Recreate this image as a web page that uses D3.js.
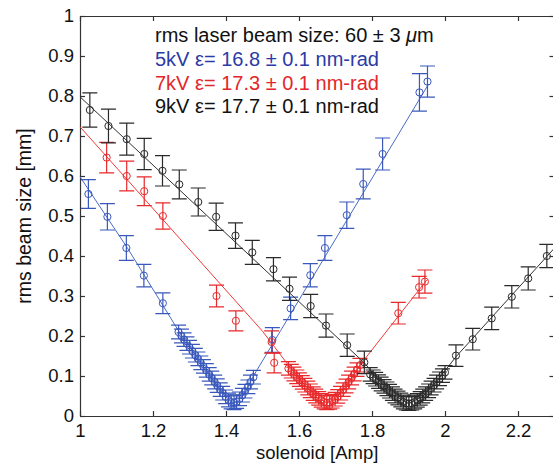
<!DOCTYPE html>
<html lang="en">
<head>
<meta charset="UTF-8">
<title>solenoid scan</title>
<style>
  body { margin: 0; background: #fff; }
  svg text { font-family: "Liberation Sans", Arial, Helvetica, sans-serif; }
</style>
</head>
<body>
<script src="https://cdn.jsdelivr.net/npm/d3@7"></script>
<script>
// axis ticks
const xTicks = [1, 1.2, 1.4, 1.6, 1.8, 2, 2.2];
const xTickLabels = ["1", "1.2", "1.4", "1.6", "1.8", "2", "2.2"];
const yTicks = [0, 0.1, 0.2, 0.3, 0.4, 0.5, 0.6, 0.7, 0.8, 0.9, 1];
const yTickLabels = ["0", "0.1", "0.2", "0.3", "0.4", "0.5", "0.6", "0.7", "0.8", "0.9", "1"];

// 5kV: [solenoid, size, err]
const blueSparse = [
  [1.023, 0.555, 0.036], [1.075, 0.498, 0.033], [1.127, 0.420, 0.031], [1.175, 0.351, 0.028],
  [1.227, 0.282, 0.026], [1.527, 0.190, 0.031], [1.577, 0.269, 0.028], [1.631, 0.352, 0.029],
  [1.671, 0.420, 0.031], [1.731, 0.502, 0.033], [1.776, 0.580, 0.037], [1.829, 0.655, 0.040],
  [1.930, 0.809, 0.047], [1.952, 0.836, 0.039]
];
const blueDense = [
  [1.270, 0.210], [1.278, 0.200], [1.285, 0.191], [1.293, 0.181], [1.300, 0.172], [1.308, 0.162],
  [1.316, 0.152], [1.323, 0.143], [1.331, 0.133], [1.338, 0.124], [1.346, 0.114], [1.354, 0.104],
  [1.361, 0.095], [1.369, 0.085], [1.376, 0.076], [1.384, 0.066], [1.391, 0.057], [1.399, 0.048],
  [1.407, 0.040], [1.414, 0.035], [1.422, 0.033], [1.429, 0.036], [1.437, 0.043], [1.445, 0.052],
  [1.452, 0.062], [1.460, 0.073], [1.467, 0.085], [1.475, 0.097]
];
const blueDenseErr = 0.017;
const blueFit = [
  [1.0, 0.598], [1.13, 0.42], [1.27, 0.213], [1.35, 0.108], [1.39, 0.058], [1.41, 0.039],
  [1.42, 0.033], [1.43, 0.036], [1.45, 0.054], [1.475, 0.1], [1.55, 0.214], [1.955, 0.83]
];

// 7kV
const redSparse = [
  [1.073, 0.646, 0.038], [1.128, 0.600, 0.037], [1.176, 0.562, 0.036], [1.227, 0.500, 0.033],
  [1.374, 0.300, 0.027], [1.427, 0.238, 0.025], [1.525, 0.185, 0.028], [1.532, 0.133, 0.025],
  [1.872, 0.257, 0.027], [1.929, 0.322, 0.027], [1.945, 0.336, 0.029]
];
const redDense = [
  [1.571, 0.119], [1.579, 0.112], [1.586, 0.105], [1.594, 0.098], [1.601, 0.091], [1.609, 0.084],
  [1.616, 0.077], [1.624, 0.070], [1.631, 0.063], [1.639, 0.056], [1.646, 0.050], [1.654, 0.044],
  [1.661, 0.039], [1.669, 0.035], [1.676, 0.033], [1.684, 0.034], [1.691, 0.037], [1.699, 0.042],
  [1.706, 0.049], [1.714, 0.057], [1.721, 0.066], [1.729, 0.075], [1.736, 0.085], [1.744, 0.095],
  [1.751, 0.105], [1.759, 0.116], [1.767, 0.127]
];
const redDenseErr = 0.017;
const redFit = [
  [1.0, 0.723], [1.50, 0.212], [1.571, 0.127], [1.62, 0.073], [1.65, 0.046], [1.676, 0.033],
  [1.70, 0.042], [1.73, 0.076], [1.767, 0.127], [1.95, 0.34]
];

// 9kV
const blackSparse = [
  [1.027, 0.765, 0.043], [1.078, 0.725, 0.042], [1.128, 0.692, 0.040], [1.176, 0.655, 0.039],
  [1.226, 0.613, 0.038], [1.272, 0.579, 0.036], [1.324, 0.535, 0.035], [1.373, 0.498, 0.034],
  [1.426, 0.451, 0.032], [1.472, 0.409, 0.030], [1.530, 0.367, 0.029], [1.574, 0.318, 0.029],
  [1.632, 0.275, 0.029], [1.674, 0.226, 0.029], [1.732, 0.177, 0.028], [1.779, 0.134, 0.028],
  [2.030, 0.151, 0.027], [2.076, 0.192, 0.027], [2.128, 0.244, 0.028], [2.183, 0.298, 0.028],
  [2.228, 0.344, 0.029], [2.279, 0.400, 0.029]
];
const blackDense = [
  [1.795, 0.104], [1.803, 0.098], [1.810, 0.092], [1.818, 0.086], [1.825, 0.080], [1.833, 0.074],
  [1.841, 0.068], [1.848, 0.062], [1.856, 0.056], [1.863, 0.050], [1.871, 0.045], [1.879, 0.040],
  [1.886, 0.035], [1.894, 0.032], [1.901, 0.031], [1.909, 0.032], [1.917, 0.035], [1.924, 0.039],
  [1.932, 0.044], [1.939, 0.050], [1.947, 0.056], [1.955, 0.063], [1.962, 0.070], [1.970, 0.077],
  [1.977, 0.085], [1.985, 0.093], [1.993, 0.101], [2.000, 0.109]
];
const blackDenseErr = 0.017;
const blackFit = [
  [1.0, 0.798], [1.78, 0.132], [1.82, 0.088], [1.86, 0.052], [1.90, 0.031], [1.94, 0.05],
  [1.98, 0.09], [2.03, 0.148], [2.30, 0.42]
];

const legendLines = [
  { parts: ["rms laser beam size: 60 \u00b1 3 ", "\u03bc", "m"], color: "#111" },
  { parts: ["5kV \u03b5= 16.8 \u00b1 0.1 nm-rad"], color: "#2b3aa6" },
  { parts: ["7kV \u03b5= 17.3 \u00b1 0.1 nm-rad"], color: "#e3262a" },
  { parts: ["9kV \u03b5= 17.7 \u00b1 0.1 nm-rad"], color: "#111" }
];

const width = 553, height = 464;
const margin = { top: 16, left: 80, bottom: 48, right: -1.5 };

const svg = d3.select("body").append("svg").attr("width", width).attr("height", height);

const x = d3.scaleLinear().domain([1, 2.3]).range([margin.left, width - margin.right]);
const y = d3.scaleLinear().domain([0, 1]).range([height - margin.bottom, margin.top]);

// axes box, ticks pointing inward
const axisColor = "#333";
const fs = "18.5px";

const gx = svg.append("g").attr("transform", `translate(0,${y(0)})`)
  .call(d3.axisBottom(x).tickValues(xTicks).tickFormat((d, i) => xTickLabels[i]).tickSize(-5).tickSizeOuter(0).tickPadding(8));
const gy = svg.append("g").attr("transform", `translate(${x(1)},0)`)
  .call(d3.axisLeft(y).tickValues(yTicks).tickFormat((d, i) => yTickLabels[i]).tickSize(-5).tickSizeOuter(0).tickPadding(6));
const gt = svg.append("g").attr("transform", `translate(0,${y(1)})`)
  .call(d3.axisTop(x).tickValues(xTicks).tickFormat("").tickSize(-5).tickSizeOuter(0));
const gr = svg.append("g").attr("transform", `translate(${x(2.3)},0)`)
  .call(d3.axisRight(y).tickValues(yTicks).tickFormat("").tickSize(-5).tickSizeOuter(0));

[gx, gy, gt, gr].forEach(g => {
  g.selectAll("path, line").attr("stroke", axisColor).attr("stroke-width", 1.2);
  g.selectAll("text").attr("fill", "#111").style("font-size", fs)
    .style("font-family", '"Liberation Sans", Arial, sans-serif');
});

// axis labels
svg.append("text")
  .attr("x", (x(1) + x(2.3)) / 2).attr("y", 459)
  .attr("text-anchor", "middle").attr("fill", "#111").style("font-size", fs)
  .text("solenoid [Amp]");
svg.append("text")
  .attr("transform", `translate(31,${(y(0) + y(1)) / 2}) rotate(-90)`)
  .attr("text-anchor", "middle").attr("fill", "#111").style("font-size", "19.5px")
  .text("rms beam size [mm]");

const line = d3.line().x(d => x(d[0])).y(d => y(d[1]));
const capW = 7.5;

function drawSeries(sparse, dense, denseErr, fit, color, fitColor) {
  const g = svg.append("g");
  g.append("path").datum(fit).attr("d", line)
    .attr("fill", "none").attr("stroke", fitColor).attr("stroke-width", 1);

  const pts = sparse.map(d => d).concat(dense.map(d => [d[0], d[1], denseErr]));
  const eb = g.append("g").attr("stroke", color).attr("stroke-width", 1.2).attr("fill", "none");
  eb.selectAll("path.err").data(pts).enter().append("path").attr("class", "err")
    .attr("d", d => {
      const cx = x(d[0]), y0 = y(d[1] - d[2]), y1 = y(d[1] + d[2]);
      return `M${cx},${y0}V${y1}M${cx - capW},${y0}H${cx + capW}M${cx - capW},${y1}H${cx + capW}`;
    });
  g.append("g").selectAll("circle").data(pts).enter().append("circle")
    .attr("cx", d => x(d[0])).attr("cy", d => y(d[1])).attr("r", 3.6)
    .attr("fill", "none").attr("stroke", color).attr("stroke-width", 1);
}

drawSeries(blueSparse, blueDense, blueDenseErr, blueFit, "#3a58bb", "#4a6cc8");
drawSeries(redSparse, redDense, redDenseErr, redFit, "#e8292b", "#ee3a3a");
drawSeries(blackSparse, blackDense, blackDenseErr, blackFit, "#2a2a2a", "#333");

// annotation
const leg = svg.append("g").style("font-size", "20px");
const baselines = [41.7, 65.7, 89.7, 113.3];
legendLines.forEach((l, i) => {
  const t = leg.append("text").attr("x", 155).attr("y", baselines[i]).attr("fill", l.color);
  l.parts.forEach(p => {
    const s = t.append("tspan").text(p);
    if (p === "\u03bc") s.style("font-style", "italic");
  });
});
</script>
</body>
</html>
